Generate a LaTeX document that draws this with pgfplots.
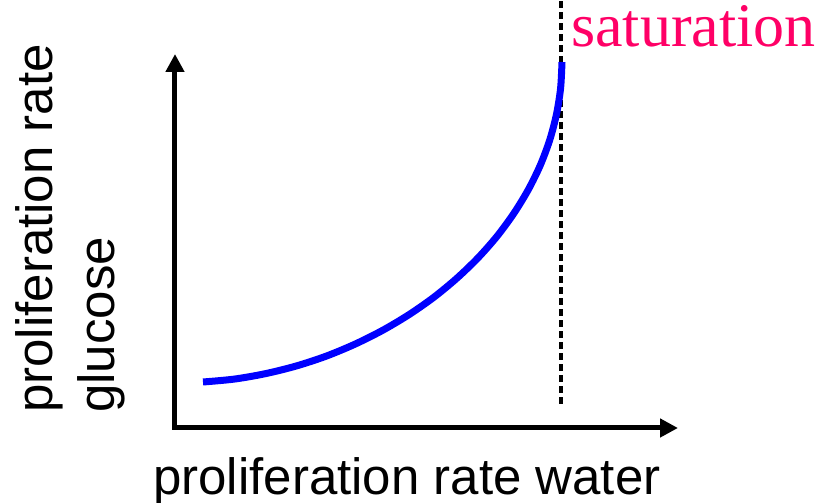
\documentclass[border=0pt]{standalone}
\usepackage{pgfplots}
\pgfplotsset{compat=1.18}
\usepackage{fontspec}
\setmainfont{Liberation Sans}
\newfontfamily\timesfont{Liberation Serif}
\usetikzlibrary{arrows.meta}
\definecolor{satcolor}{RGB}{255,0,102}
\definecolor{curveblue}{RGB}{0,0,255}
\begin{document}
\begin{tikzpicture}
\begin{axis}[
  x=1bp, y=1bp,
  xmin=175, xmax=678, ymin=75, ymax=449,
  axis lines=left,
  axis line style={line width=5bp, line cap=rect, -{Triangle[width=18bp,length=18bp]}},
  xtick=\empty, ytick=\empty,
  clip=false,
  xlabel={proliferation rate water},
  ylabel={proliferation rate\\glucose},
  every axis x label/.style={at={(axis cs:153,8)}, anchor=base west, inner sep=0pt,
    font=\fontsize{51bp}{62bp}\selectfont},
  every axis y label/.style={at={(axis cs:115,90)}, rotate=90, anchor=base west, inner sep=0pt,
    align=left, font=\fontsize{51bp}{62bp}\selectfont},
]
\addplot[line width=3.5bp, black, dash pattern=on 7bp off 4bp] coordinates {(561,99) (561,503)};
\addplot[line width=7bp, curveblue, smooth, line cap=butt] coordinates {
  (203,121) (234.3,123.9) (265.3,129.3) (295.9,136.9) (325.8,146.7) (354.7,158.7)
  (382.5,172.6) (408.9,188.3) (433.8,205.7) (456.8,224.7) (478,245.1) (497.1,266.8)
  (513.9,289.7) (528.4,313.5) (540.4,338) (549.8,363.2) (556.5,388.8) (560.6,414.8) (562,441)
};
\node[anchor=base west, inner sep=0pt, text=satcolor, font=\timesfont\fontsize{62bp}{70bp}\selectfont] at (axis cs:571,456) {saturation};
\coordinate (BL) at (axis cs:0,0);
\coordinate (TR) at (axis cs:825,503);
\end{axis}
\pgfresetboundingbox
\path[use as bounding box] (BL) rectangle (TR);
\end{tikzpicture}
\end{document}
